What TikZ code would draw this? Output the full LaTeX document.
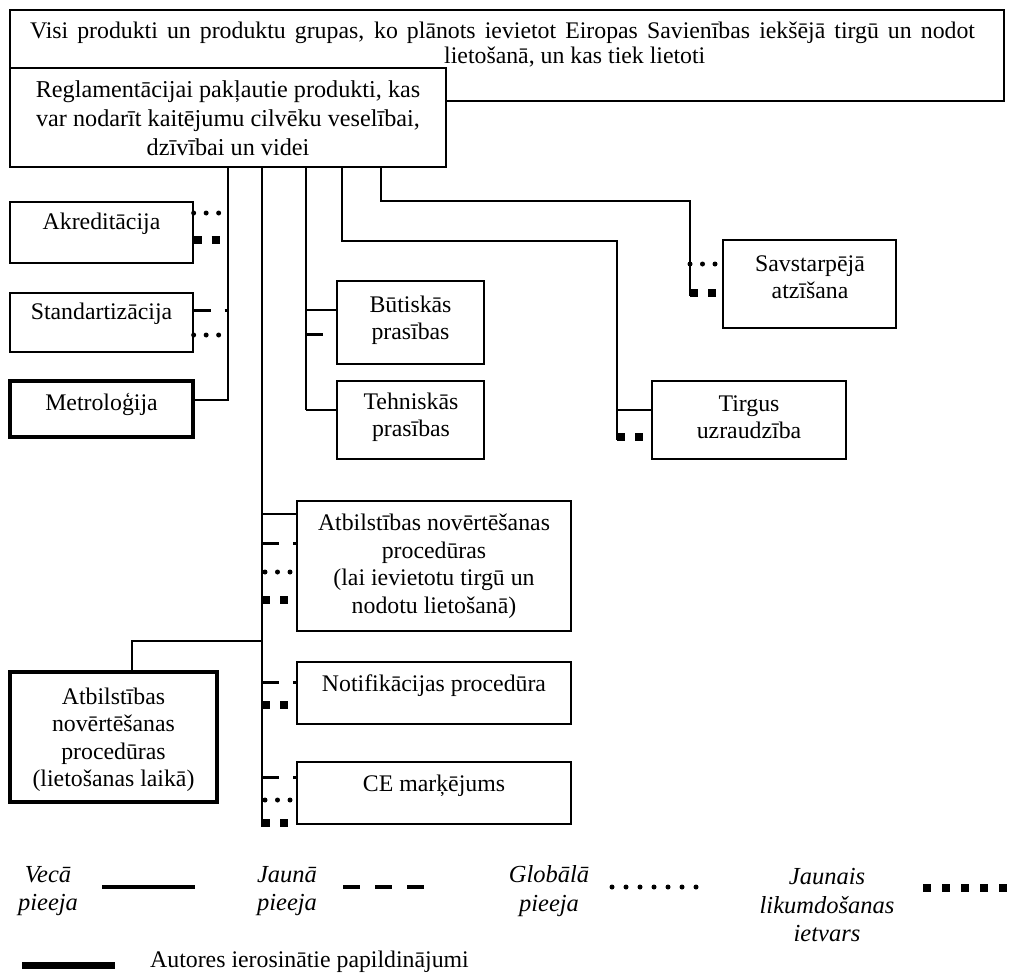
\documentclass[tikz,border=0pt]{standalone}
\usepackage{fontspec}
\setmainfont{Liberation Serif}
\begin{document}
\begin{tikzpicture}[x=1pt,y=-1pt,
  box/.style={draw, line width=1.3pt, fill=white, inner sep=0pt},
  thickbox/.style={draw, line width=3.5pt, fill=white, inner sep=0pt},
  txt/.style={inner sep=0pt, align=center, font=\fontsize{23.8}{28}\selectfont},
  ltxt/.style={inner sep=0pt, align=center, font=\fontsize{24.5}{28.5}\selectfont\itshape},
  tree/.style={line width=1.4pt},
  joinline/.style={line width=2.2pt},
  solidst/.style={line width=2.8pt},
  dashst/.style={line width=3pt, dash pattern=on 17pt off 14pt},
  dotst/.style={line width=5pt, line cap=round, dash pattern=on 0pt off 12.5pt},
  sqst/.style={line width=7.5pt, dash pattern=on 8pt off 10pt}
]
\useasboundingbox (0,0) rectangle (1011,978);

% top box and main box
\node[box, minimum width=994pt, minimum height=91pt] (topbox) at (507,55.5) {};
\node[txt] (topA) at (502.5,33) {\makebox[945pt][s]{Visi produkti un produktu grupas, ko plānots ievietot Eiropas Savienības iekšējā tirgū un nodot}};
\node[txt, anchor=west] (topB) at (444,57) {lietošanā, un kas tiek lietoti};
\node[box, minimum width=436pt, minimum height=99pt] (main) at (228,117.5) {};
\node[txt, font=\fontsize{24.2}{29}\selectfont] (mainT) at (228,118) {Reglamentācijai pakļautie produkti, kas\\var nodarīt kaitējumu cilvēku veselībai,\\dzīvībai un videi};

% left boxes
\node[box, minimum width=183pt, minimum height=61pt] (akr) at (101.5,232.5) {};
\node[txt] (akrT) at (101.5,224) {Akreditācija};
\node[box, minimum width=183pt, minimum height=59pt] (std) at (101.5,322.5) {};
\node[txt] (stdT) at (101.5,314) {Standartizācija};
\node[thickbox, minimum width=183pt, minimum height=56pt] (met) at (101.5,409) {};
\node[txt] (metT) at (101.5,404) {Metroloģija};

% middle boxes
\node[box, minimum width=147pt, minimum height=83pt] (but) at (410.5,322.5) {};
\node[txt, font=\fontsize{23.8}{27}\selectfont] (butT) at (410.5,320) {Būtiskās\\prasības};
\node[box, minimum width=147pt, minimum height=78pt] (teh) at (410.5,420) {};
\node[txt, font=\fontsize{23.8}{27}\selectfont] (tehT) at (411,417) {Tehniskās\\prasības};

% right boxes
\node[box, minimum width=173pt, minimum height=88pt] (sav) at (809.5,284) {};
\node[txt, font=\fontsize{23.8}{27}\selectfont] (savT) at (810,277) {Savstarpējā\\atzīšana};
\node[box, minimum width=194pt, minimum height=78pt] (tir) at (749,420) {};
\node[txt, font=\fontsize{23.8}{27}\selectfont] (tirT) at (749,417) {Tirgus\\uzraudzība};

% lower boxes
\node[box, minimum width=274pt, minimum height=130pt] (atb) at (434,566) {};
\node[txt, font=\fontsize{23.8}{27.5}\selectfont] (atbT) at (434,566) {Atbilstības novērtēšanas\\procedūras\\(lai ievietotu tirgū un\\nodotu lietošanā)};
\node[thickbox, minimum width=207pt, minimum height=130pt] (atl) at (113.5,737) {};
\node[txt, font=\fontsize{23.8}{27.5}\selectfont] (atlT) at (113.5,740) {Atbilstības\\novērtēšanas\\procedūras\\(lietošanas laikā)};
\node[box, minimum width=274pt, minimum height=62pt] (notb) at (434,693) {};
\node[txt] (notT) at (434,686) {Notifikācijas procedūra};
\node[box, minimum width=274pt, minimum height=62pt] (ce) at (434,793) {};
\node[txt] (ceT) at (434,786) {CE marķējums};

% trunk coordinates
\coordinate (kA) at (228,400);
\coordinate (kB) at (262,827);
\coordinate (kC) at (306,410);
\coordinate (kD1) at (342,241);
\coordinate (kD2) at (617,241);
\coordinate (kD3) at (617,440);
\coordinate (kE1) at (381,201);
\coordinate (kE2) at (690,201);
\coordinate (kE3) at (690,296);
\coordinate (kF1) at (262,641);
\coordinate (kF2) at (132,641);

% trunks
\draw[tree] (main.south -| kA) -- (kA) -- (met.east |- kA);
\draw[tree] (main.south -| kB) -- (kB);
\draw[tree] (main.south -| kC) -- (kC);
\draw[joinline] (kC) -- (teh.west |- kC);
\draw[tree] (main.south -| kD1) -- (kD1) -- (kD2) -- (kD3);
\draw[joinline] (kD2 |- tir.west) ++(0,-10) coordinate (kD4) -- (tir.west |- kD4);
\draw[tree] (main.south -| kE1) -- (kE1) -- (kE2) -- (kE3);
\draw[tree] (kF1) -- (kF2) -- (atl.north -| kF2);

% stubs: Akreditacija
\draw[dotst] (akr.east |- 0,213) -- (kA |- 0,213);
\draw[sqst] (akr.east |- 0,240) -- (kA |- 0,240);
% Standartizacija
\draw[dashst] (std.east |- 0,310) -- (kA |- 0,310);
\draw[dotst] (std.east |- 0,335) -- (kA |- 0,335);
% Butiskas
\draw[solidst] (kC |- 0,310) -- (but.west |- 0,310);
\draw[dashst] (kC |- 0,334) -- (but.west |- 0,334);
% Savstarpeja
\draw[dotst] (kE2 |- 0,264) -- (sav.west |- 0,264);
\draw[sqst] (kE2 |- 0,293) -- (sav.west |- 0,293);
% Tirgus
\draw[sqst] (kD2 |- 0,437) -- (tir.west |- 0,437);
% Atbilstibas
\draw[solidst] (kB |- 0,514) -- (atb.west |- 0,514);
\draw[dashst] (kB |- 0,543) -- (atb.west |- 0,543);
\draw[dotst] ([xshift=3pt]kB |- 0,572) -- (atb.west |- 0,572);
\draw[sqst] (kB |- 0,600) -- (atb.west |- 0,600);
% Notifikacijas
\draw[dashst] (kB |- 0,682) -- (notb.west |- 0,682);
\draw[sqst] (kB |- 0,705) -- (notb.west |- 0,705);
% CE
\draw[dashst] (kB |- 0,777) -- (ce.west |- 0,777);
\draw[dotst] ([xshift=3pt]kB |- 0,800) -- (ce.west |- 0,800);
\draw[sqst] (kB |- 0,823) -- (ce.west |- 0,823);

% legend
\node[ltxt] (l1) at (48,891) {Vecā\\pieeja};
\coordinate (l1a) at (102,887); \coordinate (l1b) at (195,887);
\draw[line width=4pt] (l1a) -- (l1b);
\node[ltxt] (l2) at (287,891) {Jaunā\\pieeja};
\coordinate (l2a) at (343,887); \coordinate (l2b) at (424,887);
\draw[line width=4pt, dash pattern=on 17pt off 15pt] (l2a) -- (l2b);
\node[ltxt] (l3) at (549,891) {Globālā\\pieeja};
\coordinate (l3a) at (612,887); \coordinate (l3b) at (699,887);
\draw[line width=5pt, line cap=round, dash pattern=on 0pt off 14pt] (l3a) -- (l3b);
\node[ltxt] (l4) at (827,905) {Jaunais\\likumdošanas\\ietvars};
\coordinate (l4a) at (923,888); \coordinate (l4b) at (1008,888);
\draw[line width=8pt, dash pattern=on 8pt off 11pt] (l4a) -- (l4b);
\coordinate (l5a) at (22,965); \coordinate (l5b) at (115,965);
\draw[line width=7pt] (l5a) -- (l5b);
\node[txt, anchor=west] (l5) at (150,962) {Autores ierosinātie papildinājumi};
\end{tikzpicture}
\end{document}
